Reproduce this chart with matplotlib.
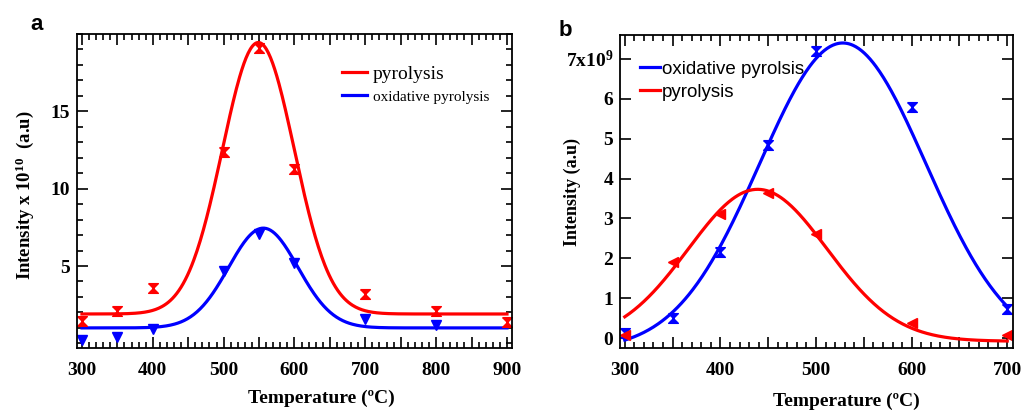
import numpy as np
import matplotlib
matplotlib.use('Agg')
import matplotlib.pyplot as plt
from matplotlib.ticker import MultipleLocator, FuncFormatter

plt.rcParams['font.family'] = ['Liberation Serif', 'DejaVu Serif']
plt.rcParams['mathtext.fontset'] = 'custom'
plt.rcParams['mathtext.rm'] = 'Liberation Serif:bold'
plt.rcParams['mathtext.it'] = 'Liberation Serif:bold'
plt.rcParams['mathtext.bf'] = 'Liberation Serif:bold'

# panel a - measured points
temp_a = [300, 350, 400, 500, 550, 600, 700, 800, 900]
pyro_a = [1.45, 2.1, 3.55, 12.4, 19.1, 11.25, 3.2, 2.1, 1.35]
temp_a_ox = [300, 350, 400, 500, 550, 600, 700, 800]
ox_a = [0.23, 0.4, 0.9, 4.7, 7.1, 5.2, 1.6, 1.2]

# panel b - measured points
temp_b = [300, 350, 400, 450, 500, 600, 700]
ox_b = [0.12, 0.5, 2.15, 4.85, 7.2, 5.8, 0.72]
pyro_b = [0.08, 1.9, 3.12, 3.65, 2.62, 0.38, 0.07]

# gaussian fit parameters: baseline, amplitude, centre, sigma
fit_pyro_a = (1.9, 17.55, 549, 50.7)
fit_ox_a = (1.0, 6.45, 556, 49)
fit_ox_b = (-0.3, 7.7, 528, 87)
fit_pyro_b = (-0.08, 3.81, 439, 72.7)

RED = '#ff0000'
BLUE = '#0000ff'
hourglass = [(-1, 1), (1, 1), (-1, -1), (1, -1), (-1, 1)]


def gauss(t, p):
    base, amp, c, s = p
    return base + amp * np.exp(-(t - c) ** 2 / (2 * s ** 2))


def style_axes(ax, ymajor, yminor):
    for sp in ax.spines.values():
        sp.set_linewidth(1.3)
    ax.xaxis.set_major_locator(MultipleLocator(50))
    ax.xaxis.set_minor_locator(MultipleLocator(10))
    ax.xaxis.set_major_formatter(FuncFormatter(
        lambda v, pos: '%d' % v if abs(v % 100) < 1e-6 else ''))
    ax.yaxis.set_major_locator(MultipleLocator(ymajor))
    if yminor:
        ax.yaxis.set_minor_locator(MultipleLocator(yminor))
    ax.tick_params(which='both', direction='in', top=True, right=True, width=1.2)
    ax.tick_params(which='major', length=8)
    ax.tick_params(which='minor', length=4)
    ax.tick_params(axis='x', which='major', pad=10)
    ax.tick_params(axis='y', which='major', pad=5)
    for lab in ax.get_xticklabels() + ax.get_yticklabels():
        lab.set_fontsize(14)
        lab.set_fontweight('bold')


fig = plt.figure(figsize=(10.28, 4.12), dpi=100)

# ---------- panel a ----------
ax1 = fig.add_axes([0.0749, 0.1553, 0.4231, 0.7622])
t = np.linspace(300, 900, 400)
ax1.plot(t, gauss(t, fit_pyro_a), color=RED, lw=2.3, label='pyrolysis')
ax1.plot(t, gauss(t, fit_ox_a), color=BLUE, lw=2.3, label='oxidative pyrolysis')
ax1.plot(temp_a, pyro_a, ls='none', marker=hourglass, ms=7, color=RED)
ax1.plot(temp_a_ox, ox_a, ls='none', marker='v', ms=7, color=BLUE)
ax1.set_xlim(293, 907)
ax1.set_ylim(-0.3, 20.0)
style_axes(ax1, 5, 1)
ax1.set_yticks([5, 10, 15])
ax1.yaxis.set_major_formatter(FuncFormatter(lambda v, pos: '%d' % v))
for lab in ax1.get_yticklabels():
    lab.set_fontsize(14)
    lab.set_fontweight('bold')
leg = ax1.legend(loc='upper left', bbox_to_anchor=(0.609, 0.9), frameon=False,
                 fontsize=14, handlelength=1.3, handletextpad=0.3,
                 borderpad=0, borderaxespad=0, labelspacing=0.25)
leg.get_texts()[1].set_fontsize(11)

fig.text(0.313, 0.034, 'Temperature (ºC)', fontsize=14, fontweight='bold',
         ha='center', va='center')
fig.text(0.024, 0.527, 'Intensity x 10$^{10}$  (a.u)', fontsize=13.5,
         fontweight='bold', rotation=90, ha='center', va='center')
fig.text(0.036, 0.94, 'a', family='Liberation Sans', fontsize=16,
         fontweight='bold', ha='center', va='center')

# ---------- panel b ----------
ax2 = fig.add_axes([0.6031, 0.1553, 0.3823, 0.7597])
t2 = np.linspace(300, 700, 400)
ax2.plot(t2, gauss(t2, fit_ox_b), color=BLUE, lw=2.3, label='oxidative pyrolsis')
ax2.plot(t2, gauss(t2, fit_pyro_b), color=RED, lw=2.3, label='pyrolysis')
ax2.plot(temp_b, ox_b, ls='none', marker=hourglass, ms=7, color=BLUE)
ax2.plot(temp_b, pyro_b, ls='none', marker='<', ms=7, color=RED)
ax2.set_xlim(295, 706)
ax2.set_ylim(-0.25, 7.6)
style_axes(ax2, 1, None)
ax2.yaxis.set_major_formatter(FuncFormatter(
    lambda v, pos: '7x10$^9$' if abs(v - 7) < 1e-6 else '%d' % round(v)))
for lab in ax2.get_yticklabels():
    lab.set_fontsize(14)
    lab.set_fontweight('bold')
ax2.legend(loc='upper left', bbox_to_anchor=(0.05, 0.918), frameon=False,
           prop={'family': 'Liberation Sans', 'size': 13.5}, handlelength=1.1,
           handletextpad=0.1, borderpad=0, borderaxespad=0, labelspacing=0.3)

fig.text(0.823, 0.026, 'Temperature (ºC)', fontsize=14, fontweight='bold',
         ha='center', va='center')
fig.text(0.557, 0.534, 'Intensity (a.u)', fontsize=13, fontweight='bold',
         rotation=90, ha='center', va='center')
fig.text(0.55, 0.925, 'b', family='Liberation Sans', fontsize=16,
         fontweight='bold', ha='center', va='center')

fig.savefig('out.png', dpi=100)
